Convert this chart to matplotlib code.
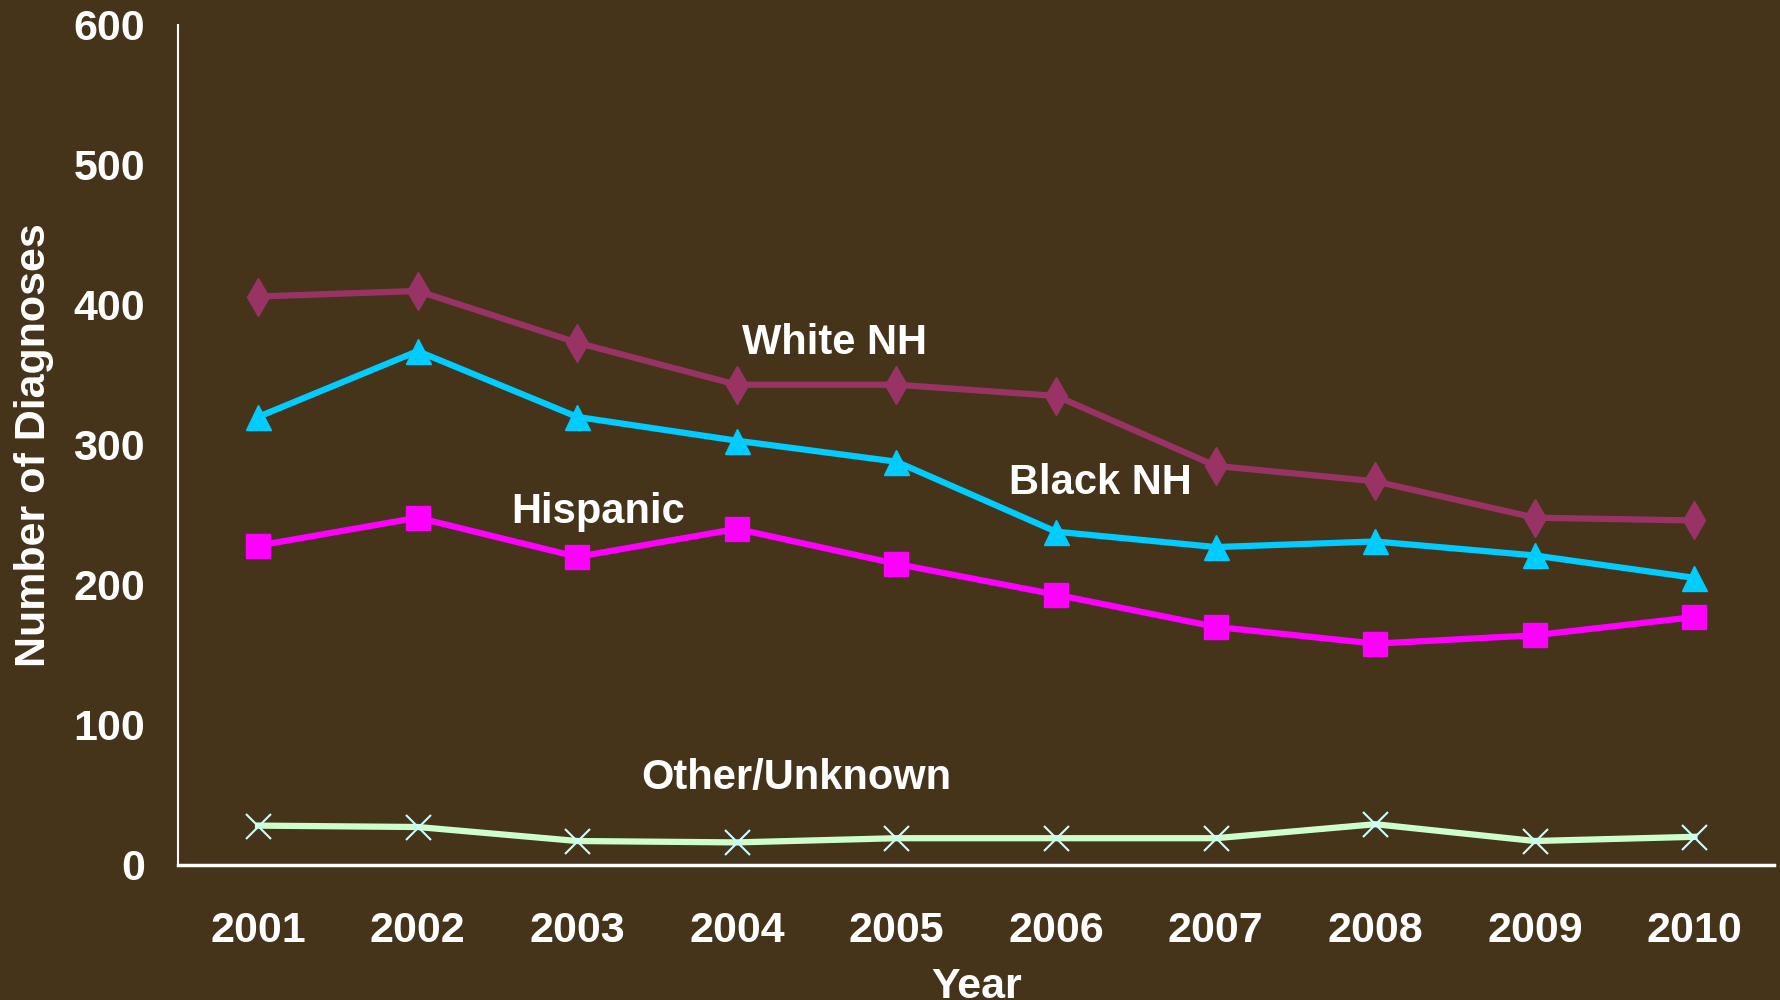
import matplotlib.pyplot as plt

years = ['2001', '2002', '2003', '2004', '2005', '2006', '2007', '2008', '2009', '2010']
white_nh = [406, 410, 373, 343, 343, 335, 285, 274, 248, 246]
black_nh = [320, 367, 320, 303, 288, 238, 227, 231, 221, 205]
hispanic = [228, 248, 220, 240, 215, 193, 170, 158, 164, 177]
other_unknown = [28, 27, 17, 16, 19, 19, 19, 29, 17, 20]

bg = '#45341A'
plt.rcParams['font.family'] = ['Liberation Sans', 'DejaVu Sans']
plt.rcParams['font.weight'] = 'bold'

fig = plt.figure(figsize=(17.81, 10), dpi=100, facecolor=bg)
ax = fig.add_axes([0.1001, 0.1352, 0.8961, 0.8398], facecolor=bg)

x = list(range(len(years)))
ax.plot(x, white_nh, color='#993366', lw=4.5, marker='d', ms=19, clip_on=False)
ax.plot(x, black_nh, color='#00CCFF', lw=4.5, marker='^', ms=18, clip_on=False)
ax.plot(x, hispanic, color='#FF00FF', lw=4.5, marker='s', ms=17, clip_on=False)
ax.plot(x, other_unknown, color='#CCFFCC', lw=4.5, marker='x', ms=18, mew=1.5,
        mec='#CCFFFF', clip_on=False)

lbl = dict(color='white', fontsize=30, fontweight='bold', ha='center', va='center')
ax.text(3.61, 373, 'White NH', **lbl)
ax.text(5.28, 273, 'Black NH', **lbl)
ax.text(2.13, 252, 'Hispanic', **lbl)
ax.text(3.37, 62, 'Other/Unknown', **lbl)

ax.set_xlim(-0.5, len(years) - 0.5)
ax.set_ylim(0, 600)
ax.set_xticks(x)
ax.set_xticklabels(years)
ax.set_yticks([0, 100, 200, 300, 400, 500, 600])
ax.tick_params(length=0, colors='white', labelsize=31)
ax.tick_params(axis='x', pad=33)
ax.tick_params(axis='y', pad=24)
for t in ax.get_xticklabels() + ax.get_yticklabels():
    t.set_fontweight('bold')

for s in ['top', 'right']:
    ax.spines[s].set_visible(False)
ax.spines['left'].set_color('white')
ax.spines['left'].set_linewidth(1.5)
ax.spines['bottom'].set_color('white')
ax.spines['bottom'].set_linewidth(2.5)

ax.set_ylabel('Number of Diagnoses', color='white', fontsize=31, fontweight='bold', labelpad=14)
ax.set_xlabel('Year', color='white', fontsize=31, fontweight='bold', labelpad=12)

fig.savefig('out.png', dpi=100, facecolor=bg)
